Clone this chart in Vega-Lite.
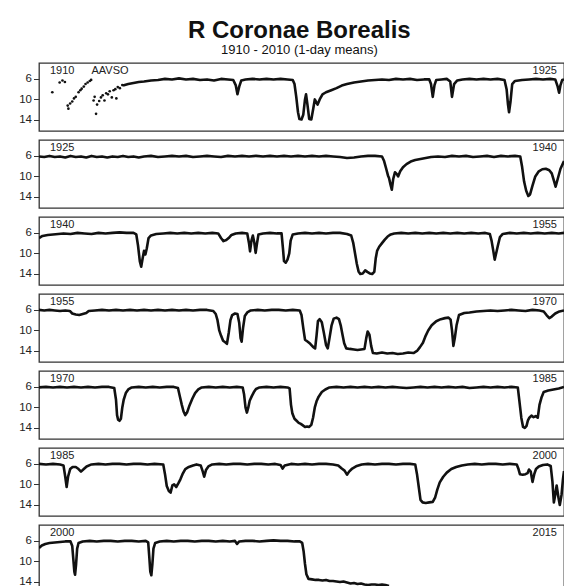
{
"$schema": "https://vega.github.io/schema/vega-lite/v6.json",
"padding": {"left": 18, "top": 19, "right": 0, "bottom": 0},
"title": {"text": "R Coronae Borealis", "subtitle": "1910 - 2010 (1-day means)", "anchor": "middle", "dx": 8, "font": "Liberation Sans", "fontSize": 24, "fontWeight": "bold", "color": "#111", "subtitleFont": "Liberation Sans", "subtitleFontSize": 13, "subtitleColor": "#111", "subtitlePadding": 1, "offset": 5},
"spacing": 7,
"config": {"view": {"stroke": "#333", "strokeWidth": 1.3}, "axis": {"labelFont": "Liberation Sans", "labelColor": "#222", "tickColor": "#333", "labelFontSize": 11.5, "labelOverlap": false}, "text": {"font": "Liberation Sans", "fontSize": 11, "color": "#222"}},
"datasets": {
"years": [{"year":1910},{"year":1925},{"year":1940},{"year":1955},{"year":1970},{"year":1985},{"year":2000},{"year":2015}],
"notes": [{"t":1911.5,"text":"AAVSO"}],
"sparse": [{"t":1910.38,"m":8.6},{"t":1910.59,"m":6.7},{"t":1910.67,"m":6.3},{"t":1910.74,"m":6.6},{"t":1910.82,"m":11.2},{"t":1910.84,"m":11.8},{"t":1910.89,"m":10.8},{"t":1910.95,"m":10.4},{"t":1911.0,"m":9.8},{"t":1911.05,"m":9.5},{"t":1911.13,"m":8.6},{"t":1911.18,"m":8.2},{"t":1911.22,"m":7.9},{"t":1911.28,"m":7.5},{"t":1911.33,"m":7.0},{"t":1911.39,"m":6.7},{"t":1911.45,"m":6.4},{"t":1911.49,"m":6.2},{"t":1911.56,"m":10.2},{"t":1911.59,"m":9.5},{"t":1911.63,"m":12.8},{"t":1911.66,"m":11.0},{"t":1911.72,"m":10.3},{"t":1911.77,"m":9.6},{"t":1911.82,"m":9.2},{"t":1911.87,"m":10.2},{"t":1911.92,"m":8.8},{"t":1911.97,"m":9.0},{"t":1912.02,"m":8.4},{"t":1912.08,"m":9.6},{"t":1912.13,"m":8.2},{"t":1912.18,"m":8.0},{"t":1912.21,"m":9.8},{"t":1912.25,"m":7.6},{"t":1912.31,"m":7.8},{"t":1912.38,"m":7.2}],
"curve": [
{"t":1912.40,"m":7.3},{"t":1912.55,"m":7.0},{"t":1912.70,"m":6.8},{"t":1912.85,"m":6.6},{"t":1913.00,"m":6.5},{"t":1913.20,"m":6.3},{"t":1913.40,"m":6.2},{"t":1913.60,"m":6.0},{"t":1913.80,"m":6.1},{"t":1914.00,"m":5.9},{"t":1914.20,"m":6.1},{"t":1914.40,"m":6.0},{"t":1914.60,"m":6.2},{"t":1914.80,"m":6.1},{"t":1915.00,"m":6.3},{"t":1915.20,"m":6.0},{"t":1915.40,"m":6.1},{"t":1915.55,"m":6.2},{"t":1915.62,"m":7.2},{"t":1915.67,"m":9.0},{"t":1915.72,"m":7.5},{"t":1915.78,"m":6.3},{"t":1915.90,"m":6.1},{"t":1916.10,"m":6.0},{"t":1916.30,"m":6.1},{"t":1916.50,"m":6.0},{"t":1916.70,"m":6.1},{"t":1916.90,"m":6.0},{"t":1917.10,"m":6.1},{"t":1917.25,"m":6.2},{"t":1917.30,"m":7.0},{"t":1917.35,"m":9.5},{"t":1917.40,"m":12.5},{"t":1917.44,"m":13.8},{"t":1917.50,"m":13.9},{"t":1917.55,"m":13.0},{"t":1917.60,"m":10.0},{"t":1917.63,"m":9.0},{"t":1917.67,"m":11.0},{"t":1917.72,"m":13.8},{"t":1917.78,"m":13.9},{"t":1917.83,"m":12.0},{"t":1917.88,"m":10.0},{"t":1917.92,"m":10.5},{"t":1917.96,"m":11.0},{"t":1918.02,"m":10.0},{"t":1918.10,"m":9.0},{"t":1918.20,"m":8.6},{"t":1918.35,"m":8.2},{"t":1918.50,"m":7.8},{"t":1918.65,"m":7.3},{"t":1918.80,"m":7.0},{"t":1919.00,"m":6.7},{"t":1919.20,"m":6.5},{"t":1919.40,"m":6.3},{"t":1919.60,"m":6.2},{"t":1919.80,"m":6.1},{"t":1920.00,"m":6.2},{"t":1920.20,"m":6.0},{"t":1920.40,"m":6.1},{"t":1920.60,"m":6.0},{"t":1920.80,"m":6.2},{"t":1921.00,"m":6.1},{"t":1921.15,"m":6.1},{"t":1921.20,"m":7.0},{"t":1921.25,"m":9.5},{"t":1921.30,"m":7.2},{"t":1921.35,"m":6.2},{"t":1921.50,"m":6.1},{"t":1921.65,"m":6.0},{"t":1921.75,"m":6.5},{"t":1921.80,"m":9.5},{"t":1921.86,"m":7.0},{"t":1921.95,"m":6.3},{"t":1922.10,"m":6.1},{"t":1922.30,"m":6.0},{"t":1922.50,"m":6.1},{"t":1922.70,"m":6.0},{"t":1922.90,"m":6.1},{"t":1923.10,"m":6.0},{"t":1923.30,"m":6.2},{"t":1923.36,"m":8.0},{"t":1923.40,"m":11.0},{"t":1923.43,"m":12.5},{"t":1923.47,"m":10.5},{"t":1923.52,"m":7.0},{"t":1923.60,"m":6.4},{"t":1923.80,"m":6.2},{"t":1924.00,"m":6.1},{"t":1924.20,"m":6.0},{"t":1924.40,"m":6.1},{"t":1924.60,"m":6.0},{"t":1924.75,"m":6.1},{"t":1924.82,"m":7.5},{"t":1924.86,"m":8.7},{"t":1924.90,"m":7.2},{"t":1924.95,"m":6.2},{"t":1925.00,"m":6.1},
{"t":1925.15,"m":6.2},{"t":1925.30,"m":6.0},{"t":1925.45,"m":6.2},{"t":1925.60,"m":6.1},{"t":1925.75,"m":6.3},{"t":1925.90,"m":6.0},{"t":1926.05,"m":6.2},{"t":1926.20,"m":6.1},{"t":1926.35,"m":6.3},{"t":1926.50,"m":6.0},{"t":1926.65,"m":6.2},{"t":1926.80,"m":6.1},{"t":1926.95,"m":6.3},{"t":1927.10,"m":6.1},{"t":1927.25,"m":6.2},{"t":1927.40,"m":6.0},{"t":1927.55,"m":6.2},{"t":1927.70,"m":6.1},{"t":1927.85,"m":6.3},{"t":1928.00,"m":6.1},{"t":1928.20,"m":6.0},{"t":1928.40,"m":6.2},{"t":1928.60,"m":6.1},{"t":1928.80,"m":6.0},{"t":1929.00,"m":6.1},{"t":1929.20,"m":6.0},{"t":1929.40,"m":6.2},{"t":1929.60,"m":6.1},{"t":1929.80,"m":6.0},{"t":1930.00,"m":6.1},{"t":1930.20,"m":6.2},{"t":1930.40,"m":6.0},{"t":1930.60,"m":6.1},{"t":1930.80,"m":6.0},{"t":1931.00,"m":6.1},{"t":1931.20,"m":6.0},{"t":1931.40,"m":6.1},{"t":1931.60,"m":6.0},{"t":1931.80,"m":6.1},{"t":1932.00,"m":6.0},{"t":1932.20,"m":6.1},{"t":1932.40,"m":6.0},{"t":1932.60,"m":6.1},{"t":1932.80,"m":6.0},{"t":1933.00,"m":6.1},{"t":1933.20,"m":6.0},{"t":1933.40,"m":6.1},{"t":1933.60,"m":6.2},{"t":1933.80,"m":6.4},{"t":1934.00,"m":6.3},{"t":1934.20,"m":6.1},{"t":1934.40,"m":6.0},{"t":1934.60,"m":6.0},{"t":1934.80,"m":6.1},{"t":1934.86,"m":7.0},{"t":1934.92,"m":8.5},{"t":1934.97,"m":9.8},{"t":1935.00,"m":10.3},{"t":1935.04,"m":11.5},{"t":1935.08,"m":12.6},{"t":1935.12,"m":10.5},{"t":1935.17,"m":9.2},{"t":1935.22,"m":9.5},{"t":1935.26,"m":10.0},{"t":1935.32,"m":9.0},{"t":1935.40,"m":8.2},{"t":1935.50,"m":7.6},{"t":1935.62,"m":7.1},{"t":1935.75,"m":6.8},{"t":1935.90,"m":6.6},{"t":1936.05,"m":6.4},{"t":1936.20,"m":6.2},{"t":1936.40,"m":6.1},{"t":1936.60,"m":6.2},{"t":1936.80,"m":6.0},{"t":1937.00,"m":6.1},{"t":1937.20,"m":6.0},{"t":1937.40,"m":6.2},{"t":1937.60,"m":6.1},{"t":1937.80,"m":6.0},{"t":1938.00,"m":6.2},{"t":1938.20,"m":6.0},{"t":1938.40,"m":6.1},{"t":1938.60,"m":6.0},{"t":1938.75,"m":6.1},{"t":1938.80,"m":8.0},{"t":1938.86,"m":11.0},{"t":1938.92,"m":12.8},{"t":1938.98,"m":13.8},{"t":1939.03,"m":13.5},{"t":1939.10,"m":11.8},{"t":1939.18,"m":10.0},{"t":1939.28,"m":9.0},{"t":1939.38,"m":8.6},{"t":1939.48,"m":8.5},{"t":1939.58,"m":8.8},{"t":1939.65,"m":9.4},{"t":1939.72,"m":11.0},{"t":1939.76,"m":12.0},{"t":1939.82,"m":10.5},{"t":1939.90,"m":8.5},{"t":1940.00,"m":7.0},
{"t":1940.10,"m":6.6},{"t":1940.25,"m":6.4},{"t":1940.40,"m":6.3},{"t":1940.55,"m":6.2},{"t":1940.70,"m":6.1},{"t":1940.90,"m":6.2},{"t":1941.10,"m":6.0},{"t":1941.30,"m":6.1},{"t":1941.50,"m":6.2},{"t":1941.70,"m":6.0},{"t":1941.90,"m":6.1},{"t":1942.10,"m":6.0},{"t":1942.30,"m":5.9},{"t":1942.50,"m":6.0},{"t":1942.70,"m":6.0},{"t":1942.78,"m":6.3},{"t":1942.83,"m":8.5},{"t":1942.88,"m":11.5},{"t":1942.92,"m":12.6},{"t":1942.96,"m":11.0},{"t":1943.00,"m":9.5},{"t":1943.04,"m":10.2},{"t":1943.08,"m":9.0},{"t":1943.13,"m":7.0},{"t":1943.20,"m":6.5},{"t":1943.35,"m":6.2},{"t":1943.55,"m":6.1},{"t":1943.75,"m":6.0},{"t":1943.95,"m":6.1},{"t":1944.15,"m":6.0},{"t":1944.35,"m":6.1},{"t":1944.55,"m":6.0},{"t":1944.75,"m":6.1},{"t":1944.95,"m":6.0},{"t":1945.12,"m":6.1},{"t":1945.20,"m":7.0},{"t":1945.27,"m":7.6},{"t":1945.35,"m":7.4},{"t":1945.42,"m":7.0},{"t":1945.50,"m":6.4},{"t":1945.62,"m":6.1},{"t":1945.80,"m":6.0},{"t":1945.95,"m":6.1},{"t":1946.00,"m":8.0},{"t":1946.03,"m":9.6},{"t":1946.07,"m":7.5},{"t":1946.11,"m":6.5},{"t":1946.15,"m":7.8},{"t":1946.19,"m":9.9},{"t":1946.23,"m":8.0},{"t":1946.27,"m":6.3},{"t":1946.40,"m":6.1},{"t":1946.60,"m":6.0},{"t":1946.80,"m":6.1},{"t":1946.93,"m":6.1},{"t":1946.97,"m":9.0},{"t":1947.00,"m":11.5},{"t":1947.05,"m":11.8},{"t":1947.10,"m":11.2},{"t":1947.15,"m":10.0},{"t":1947.19,"m":7.5},{"t":1947.25,"m":6.3},{"t":1947.40,"m":6.1},{"t":1947.60,"m":6.0},{"t":1947.80,"m":6.1},{"t":1948.00,"m":6.0},{"t":1948.20,"m":6.1},{"t":1948.40,"m":6.0},{"t":1948.60,"m":6.0},{"t":1948.80,"m":6.2},{"t":1948.92,"m":6.5},{"t":1948.98,"m":8.0},{"t":1949.03,"m":10.0},{"t":1949.08,"m":12.0},{"t":1949.13,"m":13.5},{"t":1949.18,"m":14.0},{"t":1949.25,"m":13.9},{"t":1949.32,"m":13.3},{"t":1949.38,"m":13.6},{"t":1949.45,"m":13.9},{"t":1949.52,"m":14.0},{"t":1949.58,"m":13.6},{"t":1949.62,"m":11.0},{"t":1949.66,"m":9.5},{"t":1949.72,"m":8.7},{"t":1949.80,"m":8.0},{"t":1949.88,"m":7.3},{"t":1949.96,"m":6.7},{"t":1950.05,"m":6.3},{"t":1950.15,"m":6.1},{"t":1950.35,"m":6.0},{"t":1950.55,"m":6.1},{"t":1950.75,"m":6.0},{"t":1950.95,"m":6.1},{"t":1951.15,"m":6.0},{"t":1951.35,"m":6.1},{"t":1951.55,"m":6.0},{"t":1951.75,"m":6.1},{"t":1951.95,"m":6.0},{"t":1952.15,"m":6.1},{"t":1952.35,"m":6.0},{"t":1952.55,"m":6.1},{"t":1952.75,"m":6.0},{"t":1952.88,"m":6.2},{"t":1952.93,"m":7.5},{"t":1952.98,"m":9.5},{"t":1953.02,"m":11.2},{"t":1953.06,"m":10.0},{"t":1953.11,"m":8.5},{"t":1953.17,"m":6.8},{"t":1953.25,"m":6.2},{"t":1953.45,"m":6.0},{"t":1953.65,"m":6.1},{"t":1953.85,"m":6.0},{"t":1954.05,"m":6.1},{"t":1954.25,"m":6.0},{"t":1954.45,"m":6.1},{"t":1954.65,"m":6.0},{"t":1954.85,"m":6.1},{"t":1955.00,"m":6.0},
{"t":1955.15,"m":6.1},{"t":1955.30,"m":6.0},{"t":1955.45,"m":6.1},{"t":1955.60,"m":6.2},{"t":1955.75,"m":6.1},{"t":1955.88,"m":6.2},{"t":1955.95,"m":6.7},{"t":1956.05,"m":6.9},{"t":1956.15,"m":7.0},{"t":1956.25,"m":6.8},{"t":1956.35,"m":6.6},{"t":1956.42,"m":6.2},{"t":1956.60,"m":6.1},{"t":1956.80,"m":6.0},{"t":1957.00,"m":6.1},{"t":1957.20,"m":6.0},{"t":1957.40,"m":6.1},{"t":1957.60,"m":6.0},{"t":1957.80,"m":6.1},{"t":1958.00,"m":6.0},{"t":1958.20,"m":6.1},{"t":1958.40,"m":6.0},{"t":1958.60,"m":6.1},{"t":1958.80,"m":6.0},{"t":1959.00,"m":6.1},{"t":1959.20,"m":6.0},{"t":1959.40,"m":6.1},{"t":1959.60,"m":6.0},{"t":1959.80,"m":6.0},{"t":1959.98,"m":6.2},{"t":1960.05,"m":6.8},{"t":1960.10,"m":8.0},{"t":1960.15,"m":10.0},{"t":1960.20,"m":11.0},{"t":1960.26,"m":12.0},{"t":1960.32,"m":12.3},{"t":1960.37,"m":12.6},{"t":1960.42,"m":10.5},{"t":1960.47,"m":8.0},{"t":1960.52,"m":7.0},{"t":1960.60,"m":6.7},{"t":1960.67,"m":6.8},{"t":1960.72,"m":8.5},{"t":1960.76,"m":11.5},{"t":1960.79,"m":12.2},{"t":1960.83,"m":9.5},{"t":1960.88,"m":7.2},{"t":1960.95,"m":6.5},{"t":1961.05,"m":6.1},{"t":1961.25,"m":6.0},{"t":1961.45,"m":6.1},{"t":1961.65,"m":6.0},{"t":1961.85,"m":6.0},{"t":1962.05,"m":6.1},{"t":1962.25,"m":6.0},{"t":1962.45,"m":6.1},{"t":1962.50,"m":7.0},{"t":1962.55,"m":9.5},{"t":1962.60,"m":11.8},{"t":1962.68,"m":12.2},{"t":1962.75,"m":12.6},{"t":1962.83,"m":13.2},{"t":1962.89,"m":13.5},{"t":1962.93,"m":11.0},{"t":1962.97,"m":8.2},{"t":1963.02,"m":7.8},{"t":1963.08,"m":8.4},{"t":1963.14,"m":10.5},{"t":1963.20,"m":12.8},{"t":1963.25,"m":13.5},{"t":1963.30,"m":11.5},{"t":1963.36,"m":9.0},{"t":1963.42,"m":7.7},{"t":1963.50,"m":7.5},{"t":1963.57,"m":7.8},{"t":1963.62,"m":9.0},{"t":1963.67,"m":10.8},{"t":1963.72,"m":12.5},{"t":1963.78,"m":13.5},{"t":1963.88,"m":13.6},{"t":1964.00,"m":13.7},{"t":1964.10,"m":13.8},{"t":1964.20,"m":13.7},{"t":1964.30,"m":13.6},{"t":1964.35,"m":11.5},{"t":1964.39,"m":10.2},{"t":1964.44,"m":10.8},{"t":1964.49,"m":13.0},{"t":1964.54,"m":14.4},{"t":1964.65,"m":14.5},{"t":1964.80,"m":14.3},{"t":1964.95,"m":14.5},{"t":1965.10,"m":14.4},{"t":1965.25,"m":14.6},{"t":1965.40,"m":14.5},{"t":1965.55,"m":14.3},{"t":1965.70,"m":14.4},{"t":1965.80,"m":14.0},{"t":1965.88,"m":13.3},{"t":1965.97,"m":12.4},{"t":1966.05,"m":11.0},{"t":1966.12,"m":10.0},{"t":1966.22,"m":9.0},{"t":1966.35,"m":8.2},{"t":1966.48,"m":7.8},{"t":1966.60,"m":7.6},{"t":1966.70,"m":7.5},{"t":1966.76,"m":7.9},{"t":1966.80,"m":10.0},{"t":1966.84,"m":13.0},{"t":1966.88,"m":11.5},{"t":1966.93,"m":9.0},{"t":1967.00,"m":7.0},{"t":1967.15,"m":6.6},{"t":1967.30,"m":6.5},{"t":1967.50,"m":6.3},{"t":1967.70,"m":6.2},{"t":1967.90,"m":6.1},{"t":1968.10,"m":6.2},{"t":1968.30,"m":6.1},{"t":1968.50,"m":6.0},{"t":1968.70,"m":6.1},{"t":1968.90,"m":6.2},{"t":1969.10,"m":6.0},{"t":1969.30,"m":6.1},{"t":1969.42,"m":6.3},{"t":1969.50,"m":7.0},{"t":1969.58,"m":7.6},{"t":1969.65,"m":7.3},{"t":1969.75,"m":6.7},{"t":1969.87,"m":6.3},{"t":1970.00,"m":6.1},
{"t":1970.20,"m":6.0},{"t":1970.40,"m":6.1},{"t":1970.60,"m":6.0},{"t":1970.80,"m":6.1},{"t":1971.00,"m":6.0},{"t":1971.20,"m":6.1},{"t":1971.40,"m":6.0},{"t":1971.60,"m":6.1},{"t":1971.80,"m":6.0},{"t":1972.00,"m":6.0},{"t":1972.15,"m":6.2},{"t":1972.20,"m":8.5},{"t":1972.23,"m":11.5},{"t":1972.26,"m":12.4},{"t":1972.30,"m":12.6},{"t":1972.34,"m":12.2},{"t":1972.38,"m":10.0},{"t":1972.42,"m":8.5},{"t":1972.48,"m":7.2},{"t":1972.55,"m":6.5},{"t":1972.65,"m":6.1},{"t":1972.85,"m":6.0},{"t":1973.05,"m":6.1},{"t":1973.25,"m":6.0},{"t":1973.45,"m":6.1},{"t":1973.65,"m":6.0},{"t":1973.85,"m":6.0},{"t":1973.97,"m":6.2},{"t":1974.03,"m":8.0},{"t":1974.08,"m":9.5},{"t":1974.13,"m":10.8},{"t":1974.18,"m":11.5},{"t":1974.23,"m":11.0},{"t":1974.30,"m":9.6},{"t":1974.38,"m":8.3},{"t":1974.46,"m":7.2},{"t":1974.55,"m":6.5},{"t":1974.65,"m":6.1},{"t":1974.85,"m":6.0},{"t":1975.05,"m":6.1},{"t":1975.25,"m":6.0},{"t":1975.45,"m":6.1},{"t":1975.65,"m":6.0},{"t":1975.82,"m":6.1},{"t":1975.86,"m":7.5},{"t":1975.90,"m":10.0},{"t":1975.94,"m":11.0},{"t":1975.98,"m":10.0},{"t":1976.02,"m":8.7},{"t":1976.08,"m":7.8},{"t":1976.14,"m":7.0},{"t":1976.20,"m":6.4},{"t":1976.30,"m":6.1},{"t":1976.50,"m":6.0},{"t":1976.70,"m":6.1},{"t":1976.90,"m":6.0},{"t":1977.10,"m":6.1},{"t":1977.16,"m":6.3},{"t":1977.20,"m":9.5},{"t":1977.24,"m":11.2},{"t":1977.30,"m":12.2},{"t":1977.36,"m":12.6},{"t":1977.42,"m":13.0},{"t":1977.48,"m":13.2},{"t":1977.54,"m":13.5},{"t":1977.60,"m":13.8},{"t":1977.66,"m":13.7},{"t":1977.72,"m":13.8},{"t":1977.78,"m":13.4},{"t":1977.83,"m":12.0},{"t":1977.88,"m":10.0},{"t":1977.93,"m":8.8},{"t":1977.99,"m":7.9},{"t":1978.08,"m":7.0},{"t":1978.18,"m":6.5},{"t":1978.30,"m":6.1},{"t":1978.50,"m":6.0},{"t":1978.70,"m":6.1},{"t":1978.90,"m":6.0},{"t":1979.10,"m":6.1},{"t":1979.30,"m":6.0},{"t":1979.50,"m":6.1},{"t":1979.70,"m":6.0},{"t":1979.90,"m":6.1},{"t":1980.10,"m":6.0},{"t":1980.30,"m":6.1},{"t":1980.50,"m":6.2},{"t":1980.70,"m":6.1},{"t":1980.90,"m":6.0},{"t":1981.10,"m":6.1},{"t":1981.30,"m":6.0},{"t":1981.50,"m":6.1},{"t":1981.70,"m":6.0},{"t":1981.90,"m":6.1},{"t":1982.10,"m":6.0},{"t":1982.30,"m":6.2},{"t":1982.50,"m":6.1},{"t":1982.70,"m":6.0},{"t":1982.90,"m":6.1},{"t":1983.10,"m":6.0},{"t":1983.30,"m":6.1},{"t":1983.50,"m":6.0},{"t":1983.68,"m":6.1},{"t":1983.73,"m":9.0},{"t":1983.78,"m":12.0},{"t":1983.83,"m":13.8},{"t":1983.88,"m":14.0},{"t":1983.93,"m":13.6},{"t":1983.97,"m":12.5},{"t":1984.01,"m":12.0},{"t":1984.07,"m":11.6},{"t":1984.13,"m":11.9},{"t":1984.19,"m":11.7},{"t":1984.25,"m":12.0},{"t":1984.30,"m":9.5},{"t":1984.36,"m":8.0},{"t":1984.42,"m":7.0},{"t":1984.55,"m":6.7},{"t":1984.70,"m":6.5},{"t":1984.85,"m":6.3},{"t":1985.00,"m":6.0},
{"t":1985.20,"m":6.1},{"t":1985.40,"m":6.0},{"t":1985.60,"m":6.1},{"t":1985.70,"m":6.3},{"t":1985.75,"m":8.5},{"t":1985.79,"m":10.5},{"t":1985.83,"m":8.5},{"t":1985.89,"m":7.0},{"t":1985.96,"m":6.6},{"t":1986.05,"m":6.6},{"t":1986.13,"m":7.0},{"t":1986.20,"m":7.5},{"t":1986.28,"m":7.0},{"t":1986.36,"m":6.5},{"t":1986.50,"m":6.1},{"t":1986.70,"m":6.0},{"t":1986.90,"m":6.1},{"t":1987.10,"m":6.0},{"t":1987.30,"m":6.0},{"t":1987.50,"m":6.1},{"t":1987.70,"m":6.0},{"t":1987.90,"m":6.0},{"t":1988.10,"m":6.1},{"t":1988.30,"m":6.0},{"t":1988.55,"m":6.1},{"t":1988.60,"m":8.0},{"t":1988.65,"m":10.3},{"t":1988.71,"m":11.3},{"t":1988.76,"m":11.6},{"t":1988.81,"m":10.2},{"t":1988.86,"m":10.0},{"t":1988.92,"m":10.5},{"t":1988.98,"m":9.8},{"t":1989.04,"m":9.0},{"t":1989.10,"m":8.0},{"t":1989.18,"m":7.0},{"t":1989.28,"m":6.6},{"t":1989.40,"m":6.3},{"t":1989.50,"m":6.1},{"t":1989.62,"m":6.3},{"t":1989.68,"m":7.5},{"t":1989.72,"m":8.5},{"t":1989.77,"m":7.2},{"t":1989.84,"m":6.5},{"t":1989.95,"m":6.1},{"t":1990.15,"m":6.0},{"t":1990.35,"m":6.1},{"t":1990.55,"m":6.0},{"t":1990.75,"m":6.0},{"t":1990.95,"m":6.1},{"t":1991.15,"m":6.0},{"t":1991.35,"m":6.0},{"t":1991.55,"m":6.1},{"t":1991.75,"m":6.0},{"t":1991.90,"m":6.2},{"t":1991.96,"m":6.9},{"t":1992.02,"m":6.3},{"t":1992.20,"m":6.0},{"t":1992.40,"m":6.1},{"t":1992.60,"m":6.0},{"t":1992.80,"m":6.1},{"t":1993.00,"m":6.0},{"t":1993.20,"m":6.0},{"t":1993.40,"m":6.1},{"t":1993.55,"m":6.3},{"t":1993.65,"m":6.9},{"t":1993.73,"m":7.3},{"t":1993.80,"m":8.1},{"t":1993.86,"m":7.5},{"t":1993.95,"m":6.9},{"t":1994.08,"m":6.4},{"t":1994.22,"m":6.1},{"t":1994.40,"m":6.0},{"t":1994.60,"m":6.1},{"t":1994.80,"m":6.0},{"t":1995.00,"m":6.0},{"t":1995.20,"m":6.1},{"t":1995.40,"m":6.0},{"t":1995.60,"m":6.0},{"t":1995.75,"m":6.1},{"t":1995.80,"m":8.0},{"t":1995.85,"m":10.5},{"t":1995.90,"m":13.0},{"t":1995.96,"m":13.5},{"t":1996.05,"m":13.6},{"t":1996.15,"m":13.5},{"t":1996.25,"m":13.4},{"t":1996.32,"m":12.5},{"t":1996.38,"m":11.0},{"t":1996.45,"m":9.6},{"t":1996.55,"m":8.5},{"t":1996.65,"m":7.7},{"t":1996.78,"m":7.0},{"t":1996.92,"m":6.6},{"t":1997.08,"m":6.3},{"t":1997.25,"m":6.1},{"t":1997.45,"m":6.0},{"t":1997.65,"m":6.1},{"t":1997.85,"m":6.0},{"t":1998.05,"m":6.0},{"t":1998.25,"m":6.1},{"t":1998.45,"m":6.0},{"t":1998.65,"m":6.1},{"t":1998.70,"m":7.0},{"t":1998.74,"m":8.0},{"t":1998.82,"m":8.1},{"t":1998.90,"m":8.0},{"t":1998.96,"m":7.8},{"t":1999.00,"m":7.1},{"t":1999.05,"m":7.5},{"t":1999.10,"m":9.5},{"t":1999.15,"m":8.0},{"t":1999.20,"m":7.0},{"t":1999.28,"m":6.5},{"t":1999.40,"m":6.2},{"t":1999.52,"m":6.1},{"t":1999.62,"m":6.4},{"t":1999.67,"m":9.5},{"t":1999.71,"m":13.5},{"t":1999.75,"m":12.0},{"t":1999.79,"m":10.2},{"t":1999.84,"m":12.5},{"t":1999.88,"m":14.0},{"t":1999.93,"m":12.0},{"t":1999.97,"m":9.0},{"t":2000.00,"m":7.4},
{"t":2000.08,"m":6.9},{"t":2000.18,"m":6.6},{"t":2000.30,"m":6.4},{"t":2000.45,"m":6.3},{"t":2000.60,"m":6.2},{"t":2000.75,"m":6.1},{"t":2000.90,"m":6.1},{"t":2000.95,"m":7.0},{"t":2000.98,"m":9.5},{"t":2001.01,"m":12.0},{"t":2001.03,"m":12.6},{"t":2001.06,"m":10.5},{"t":2001.09,"m":7.5},{"t":2001.13,"m":6.4},{"t":2001.25,"m":6.1},{"t":2001.45,"m":6.0},{"t":2001.65,"m":6.1},{"t":2001.85,"m":6.0},{"t":2002.05,"m":6.0},{"t":2002.25,"m":6.1},{"t":2002.45,"m":6.0},{"t":2002.65,"m":6.0},{"t":2002.85,"m":6.1},{"t":2003.05,"m":6.0},{"t":2003.12,"m":6.3},{"t":2003.15,"m":9.0},{"t":2003.18,"m":12.0},{"t":2003.21,"m":12.7},{"t":2003.24,"m":10.5},{"t":2003.27,"m":7.5},{"t":2003.32,"m":6.4},{"t":2003.45,"m":6.1},{"t":2003.65,"m":6.0},{"t":2003.85,"m":6.1},{"t":2004.05,"m":6.0},{"t":2004.25,"m":6.0},{"t":2004.45,"m":6.1},{"t":2004.65,"m":6.0},{"t":2004.85,"m":6.0},{"t":2005.05,"m":6.1},{"t":2005.25,"m":6.0},{"t":2005.45,"m":6.1},{"t":2005.60,"m":6.0},{"t":2005.66,"m":6.6},{"t":2005.72,"m":6.1},{"t":2005.90,"m":6.0},{"t":2006.10,"m":6.0},{"t":2006.30,"m":6.1},{"t":2006.50,"m":6.0},{"t":2006.70,"m":5.9},{"t":2006.90,"m":6.0},{"t":2007.10,"m":6.0},{"t":2007.30,"m":6.1},{"t":2007.45,"m":6.1},{"t":2007.52,"m":6.4},{"t":2007.56,"m":8.0},{"t":2007.60,"m":10.5},{"t":2007.64,"m":12.5},{"t":2007.70,"m":13.4},{"t":2007.80,"m":13.5},{"t":2007.90,"m":13.6},{"t":2008.00,"m":13.6},{"t":2008.10,"m":13.7},{"t":2008.20,"m":13.6},{"t":2008.30,"m":13.8},{"t":2008.40,"m":13.8},{"t":2008.50,"m":13.9},{"t":2008.60,"m":14.0},{"t":2008.70,"m":13.9},{"t":2008.80,"m":14.1},{"t":2008.90,"m":14.3},{"t":2009.00,"m":14.2},{"t":2009.10,"m":14.4},{"t":2009.20,"m":14.3},{"t":2009.30,"m":14.5},{"t":2009.40,"m":14.6},{"t":2009.50,"m":14.5},{"t":2009.60,"m":14.5},{"t":2009.70,"m":14.6},{"t":2009.80,"m":14.5},{"t":2009.90,"m":14.6},{"t":2010.00,"m":14.8}
]
},
"vconcat": [
{"width": 525, "height": 68, "resolve": {"axis": {"y": "independent"}}, "layer": [
 {"data": {"name": "curve"}, "transform": [{"filter": {"field": "t", "range": [1910, 1925]}}], "mark": {"type": "line", "color": "#111", "strokeWidth": 2.6, "strokeJoin": "round", "clip": true}, "encoding": {"x": {"field": "t", "type": "quantitative", "scale": {"domain": [1910, 1925], "nice": false, "zero": false}, "axis": null}, "y": {"field": "m", "type": "quantitative", "scale": {"domain": [2.9, 16.15], "reverse": true, "nice": false, "zero": false}, "axis": {"orient": "left", "values": [6, 10, 14], "title": null, "domain": false, "grid": false, "tickSize": 5.5, "labelPadding": 2, "labelOverlap": false}}}},
 {"data": {"name": "sparse"}, "mark": {"type": "circle", "size": 7, "color": "#111", "opacity": 1, "clip": true}, "encoding": {"x": {"field": "t", "type": "quantitative"}, "y": {"field": "m", "type": "quantitative", "axis": null}}},
 {"data": {"name": "notes"}, "mark": {"type": "text", "align": "left", "baseline": "alphabetic"}, "encoding": {"x": {"field": "t", "type": "quantitative"}, "y": {"datum": 5.0, "type": "quantitative", "axis": null}, "text": {"field": "text", "type": "nominal"}}},
 {"data": {"name": "years"}, "transform": [{"filter": {"field": "year", "equal": 1910}}], "mark": {"type": "text", "align": "left", "dx": 11, "baseline": "alphabetic"}, "encoding": {"x": {"field": "year", "type": "quantitative"}, "y": {"datum": 5.0, "type": "quantitative", "axis": null}, "text": {"field": "year", "type": "nominal"}}},
 {"data": {"name": "years"}, "transform": [{"filter": {"field": "year", "equal": 1925}}], "mark": {"type": "text", "align": "right", "dx": -7, "baseline": "alphabetic"}, "encoding": {"x": {"field": "year", "type": "quantitative"}, "y": {"datum": 5.0, "type": "quantitative", "axis": null}, "text": {"field": "year", "type": "nominal"}}}
]},
{"width": 525, "height": 68, "resolve": {"axis": {"y": "independent"}}, "layer": [
 {"data": {"name": "curve"}, "transform": [{"filter": {"field": "t", "range": [1925, 1940]}}], "mark": {"type": "line", "color": "#111", "strokeWidth": 2.6, "strokeJoin": "round", "clip": true}, "encoding": {"x": {"field": "t", "type": "quantitative", "scale": {"domain": [1925, 1940], "nice": false, "zero": false}, "axis": null}, "y": {"field": "m", "type": "quantitative", "scale": {"domain": [2.9, 16.15], "reverse": true, "nice": false, "zero": false}, "axis": {"orient": "left", "values": [6, 10, 14], "title": null, "domain": false, "grid": false, "tickSize": 5.5, "labelPadding": 2, "labelOverlap": false}}}},
 {"data": {"name": "years"}, "transform": [{"filter": {"field": "year", "equal": 1925}}], "mark": {"type": "text", "align": "left", "dx": 11, "baseline": "alphabetic"}, "encoding": {"x": {"field": "year", "type": "quantitative"}, "y": {"datum": 5.0, "type": "quantitative", "axis": null}, "text": {"field": "year", "type": "nominal"}}},
 {"data": {"name": "years"}, "transform": [{"filter": {"field": "year", "equal": 1940}}], "mark": {"type": "text", "align": "right", "dx": -7, "baseline": "alphabetic"}, "encoding": {"x": {"field": "year", "type": "quantitative"}, "y": {"datum": 5.0, "type": "quantitative", "axis": null}, "text": {"field": "year", "type": "nominal"}}}
]},
{"width": 525, "height": 68, "resolve": {"axis": {"y": "independent"}}, "layer": [
 {"data": {"name": "curve"}, "transform": [{"filter": {"field": "t", "range": [1940, 1955]}}], "mark": {"type": "line", "color": "#111", "strokeWidth": 2.6, "strokeJoin": "round", "clip": true}, "encoding": {"x": {"field": "t", "type": "quantitative", "scale": {"domain": [1940, 1955], "nice": false, "zero": false}, "axis": null}, "y": {"field": "m", "type": "quantitative", "scale": {"domain": [2.9, 16.15], "reverse": true, "nice": false, "zero": false}, "axis": {"orient": "left", "values": [6, 10, 14], "title": null, "domain": false, "grid": false, "tickSize": 5.5, "labelPadding": 2, "labelOverlap": false}}}},
 {"data": {"name": "years"}, "transform": [{"filter": {"field": "year", "equal": 1940}}], "mark": {"type": "text", "align": "left", "dx": 11, "baseline": "alphabetic"}, "encoding": {"x": {"field": "year", "type": "quantitative"}, "y": {"datum": 5.0, "type": "quantitative", "axis": null}, "text": {"field": "year", "type": "nominal"}}},
 {"data": {"name": "years"}, "transform": [{"filter": {"field": "year", "equal": 1955}}], "mark": {"type": "text", "align": "right", "dx": -7, "baseline": "alphabetic"}, "encoding": {"x": {"field": "year", "type": "quantitative"}, "y": {"datum": 5.0, "type": "quantitative", "axis": null}, "text": {"field": "year", "type": "nominal"}}}
]},
{"width": 525, "height": 68, "resolve": {"axis": {"y": "independent"}}, "layer": [
 {"data": {"name": "curve"}, "transform": [{"filter": {"field": "t", "range": [1955, 1970]}}], "mark": {"type": "line", "color": "#111", "strokeWidth": 2.6, "strokeJoin": "round", "clip": true}, "encoding": {"x": {"field": "t", "type": "quantitative", "scale": {"domain": [1955, 1970], "nice": false, "zero": false}, "axis": null}, "y": {"field": "m", "type": "quantitative", "scale": {"domain": [2.9, 16.15], "reverse": true, "nice": false, "zero": false}, "axis": {"orient": "left", "values": [6, 10, 14], "title": null, "domain": false, "grid": false, "tickSize": 5.5, "labelPadding": 2, "labelOverlap": false}}}},
 {"data": {"name": "years"}, "transform": [{"filter": {"field": "year", "equal": 1955}}], "mark": {"type": "text", "align": "left", "dx": 11, "baseline": "alphabetic"}, "encoding": {"x": {"field": "year", "type": "quantitative"}, "y": {"datum": 5.0, "type": "quantitative", "axis": null}, "text": {"field": "year", "type": "nominal"}}},
 {"data": {"name": "years"}, "transform": [{"filter": {"field": "year", "equal": 1970}}], "mark": {"type": "text", "align": "right", "dx": -7, "baseline": "alphabetic"}, "encoding": {"x": {"field": "year", "type": "quantitative"}, "y": {"datum": 5.0, "type": "quantitative", "axis": null}, "text": {"field": "year", "type": "nominal"}}}
]},
{"width": 525, "height": 68, "resolve": {"axis": {"y": "independent"}}, "layer": [
 {"data": {"name": "curve"}, "transform": [{"filter": {"field": "t", "range": [1970, 1985]}}], "mark": {"type": "line", "color": "#111", "strokeWidth": 2.6, "strokeJoin": "round", "clip": true}, "encoding": {"x": {"field": "t", "type": "quantitative", "scale": {"domain": [1970, 1985], "nice": false, "zero": false}, "axis": null}, "y": {"field": "m", "type": "quantitative", "scale": {"domain": [2.9, 16.15], "reverse": true, "nice": false, "zero": false}, "axis": {"orient": "left", "values": [6, 10, 14], "title": null, "domain": false, "grid": false, "tickSize": 5.5, "labelPadding": 2, "labelOverlap": false}}}},
 {"data": {"name": "years"}, "transform": [{"filter": {"field": "year", "equal": 1970}}], "mark": {"type": "text", "align": "left", "dx": 11, "baseline": "alphabetic"}, "encoding": {"x": {"field": "year", "type": "quantitative"}, "y": {"datum": 5.0, "type": "quantitative", "axis": null}, "text": {"field": "year", "type": "nominal"}}},
 {"data": {"name": "years"}, "transform": [{"filter": {"field": "year", "equal": 1985}}], "mark": {"type": "text", "align": "right", "dx": -7, "baseline": "alphabetic"}, "encoding": {"x": {"field": "year", "type": "quantitative"}, "y": {"datum": 5.0, "type": "quantitative", "axis": null}, "text": {"field": "year", "type": "nominal"}}}
]},
{"width": 525, "height": 68, "resolve": {"axis": {"y": "independent"}}, "layer": [
 {"data": {"name": "curve"}, "transform": [{"filter": {"field": "t", "range": [1985, 2000]}}], "mark": {"type": "line", "color": "#111", "strokeWidth": 2.6, "strokeJoin": "round", "clip": true}, "encoding": {"x": {"field": "t", "type": "quantitative", "scale": {"domain": [1985, 2000], "nice": false, "zero": false}, "axis": null}, "y": {"field": "m", "type": "quantitative", "scale": {"domain": [2.9, 16.15], "reverse": true, "nice": false, "zero": false}, "axis": {"orient": "left", "values": [6, 10, 14], "title": null, "domain": false, "grid": false, "tickSize": 5.5, "labelPadding": 2, "labelOverlap": false}}}},
 {"data": {"name": "years"}, "transform": [{"filter": {"field": "year", "equal": 1985}}], "mark": {"type": "text", "align": "left", "dx": 11, "baseline": "alphabetic"}, "encoding": {"x": {"field": "year", "type": "quantitative"}, "y": {"datum": 5.0, "type": "quantitative", "axis": null}, "text": {"field": "year", "type": "nominal"}}},
 {"data": {"name": "years"}, "transform": [{"filter": {"field": "year", "equal": 2000}}], "mark": {"type": "text", "align": "right", "dx": -7, "baseline": "alphabetic"}, "encoding": {"x": {"field": "year", "type": "quantitative"}, "y": {"datum": 5.0, "type": "quantitative", "axis": null}, "text": {"field": "year", "type": "nominal"}}}
]},
{"width": 525, "height": 68, "resolve": {"axis": {"y": "independent"}}, "layer": [
 {"data": {"name": "curve"}, "transform": [{"filter": {"field": "t", "range": [2000, 2015]}}], "mark": {"type": "line", "color": "#111", "strokeWidth": 2.6, "strokeJoin": "round", "clip": true}, "encoding": {"x": {"field": "t", "type": "quantitative", "scale": {"domain": [2000, 2015], "nice": false, "zero": false}, "axis": null}, "y": {"field": "m", "type": "quantitative", "scale": {"domain": [2.9, 16.15], "reverse": true, "nice": false, "zero": false}, "axis": {"orient": "left", "values": [6, 10, 14], "title": null, "domain": false, "grid": false, "tickSize": 5.5, "labelPadding": 2, "labelOverlap": false}}}},
 {"data": {"name": "years"}, "transform": [{"filter": {"field": "year", "equal": 2000}}], "mark": {"type": "text", "align": "left", "dx": 11, "baseline": "alphabetic"}, "encoding": {"x": {"field": "year", "type": "quantitative"}, "y": {"datum": 5.0, "type": "quantitative", "axis": null}, "text": {"field": "year", "type": "nominal"}}},
 {"data": {"name": "years"}, "transform": [{"filter": {"field": "year", "equal": 2015}}], "mark": {"type": "text", "align": "right", "dx": -7, "baseline": "alphabetic"}, "encoding": {"x": {"field": "year", "type": "quantitative"}, "y": {"datum": 5.0, "type": "quantitative", "axis": null}, "text": {"field": "year", "type": "nominal"}}}
]}
]
}
